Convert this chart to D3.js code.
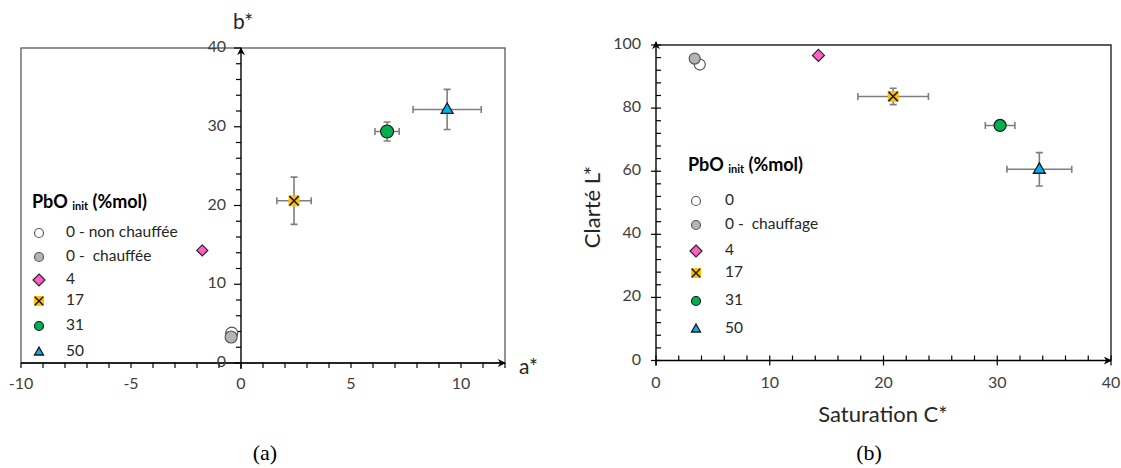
<!DOCTYPE html>
<html><head><meta charset="utf-8">
<script src="https://cdn.jsdelivr.net/npm/d3@7"></script>
<style>
html,body{margin:0;padding:0;background:#fff;}
svg{display:block;}
</style></head>
<body>
<svg id="chart" width="1121" height="468"></svg>
<script>
// ---------- DATA ----------
const seriesKeys = ["0","0c","4","17","31","50"];
const legendLabelsA = ["0 - non chauffée","0 -  chauffée","4","17","31","50"];
const legendLabelsB = ["0","0 -  chauffage","4","17","31","50"];
// panel (a): a*, b*
const aStar = [-0.42, -0.45, -1.76, 2.41, 6.64, 9.37];
const bStar = [3.8, 3.3, 14.3, 20.6, 29.4, 32.2];
const aErr  = [0, 0, 0, 0.78, 0.55, 1.55];
const bErr  = [0, 0, 0, 3.0, 1.2, 2.55];
// panel (b): C*, L*
const chroma    = [3.85, 3.4, 14.28, 20.85, 30.25, 33.7];
const lightness = [93.8, 95.7, 96.7, 83.7, 74.5, 60.6];
const cErr = [0, 0, 0, 3.1, 1.3, 2.85];
const lErr = [0, 0, 0, 2.6, 1.5, 5.3];
// ticks
const xTicksA = [-10,-5,0,5,10];
const yTicksA = [0,10,20,30,40];
const xTicksB = [0,10,20,30,40];
const yTicksB = [0,20,40,60,80,100];

// ---------- STYLE ----------
const SANS = "Lato, 'Open Sans', sans-serif";
const SERIF = "'Liberation Serif', 'Times New Roman', serif";
const styles = {
  "0":  {shape:"circle", fill:"#ffffff", stroke:"#595959"},
  "0c": {shape:"circle", fill:"#b4b4b4", stroke:"#595959"},
  "4":  {shape:"diamond", fill:"#ff5fc0", stroke:"#262626"},
  "17": {shape:"xsquare", fill:"#ffc000", stroke:"#1a1a1a"},
  "31": {shape:"circle", fill:"#00b050", stroke:"#1a1a1a"},
  "50": {shape:"triangle", fill:"#00b0f0", stroke:"#1a1a1a"}
};
const tickColor = "#404040";
const errColor = "#7f7f7f";

const svg = d3.select("#chart").style("font-family", SANS);
const defs = svg.append("defs");
defs.append("marker").attr("id","arrow").attr("viewBox","0 0 10 10")
  .attr("refX",9).attr("refY",5).attr("markerWidth",8).attr("markerHeight",8)
  .attr("markerUnits","userSpaceOnUse").attr("orient","auto")
  .append("path").attr("d","M0,0 L10,5 L0,10 L3,5 Z").attr("fill","#000");

function drawMarker(g, key, cx, cy, s) {
  const st = styles[key];
  if (st.shape === "circle") {
    g.append("circle").attr("cx",cx).attr("cy",cy).attr("r",s/2)
      .attr("fill",st.fill).attr("stroke",st.stroke).attr("stroke-width",1.2);
  } else if (st.shape === "diamond") {
    const h = s/2;
    g.append("path").attr("d",`M${cx},${cy-h}L${cx+h},${cy}L${cx},${cy+h}L${cx-h},${cy}Z`)
      .attr("fill",st.fill).attr("stroke",st.stroke).attr("stroke-width",1.2);
  } else if (st.shape === "triangle") {
    const h = s*0.87;
    g.append("path").attr("d",`M${cx},${cy-h*0.62}L${cx+s/2},${cy+h*0.38}L${cx-s/2},${cy+h*0.38}Z`)
      .attr("fill",st.fill).attr("stroke",st.stroke).attr("stroke-width",1.3);
  } else if (st.shape === "xsquare") {
    const h = s/2;
    g.append("rect").attr("x",cx-h).attr("y",cy-h).attr("width",s).attr("height",s)
      .attr("fill",st.fill);
    const k = h*0.85;
    g.append("path").attr("d",`M${cx-k},${cy-k}L${cx+k},${cy+k}M${cx-k},${cy+k}L${cx+k},${cy-k}`)
      .attr("stroke",st.stroke).attr("stroke-width",1.5);
  }
}

function errorBars(g, xs, ys, xe, ye, xScale, yScale) {
  seriesKeys.forEach((k,i)=>{
    const cx = xScale(xs[i]), cy = yScale(ys[i]);
    const cap = 3.5;
    if (xe[i] > 0) {
      const x0 = xScale(xs[i]-xe[i]), x1 = xScale(xs[i]+xe[i]);
      g.append("path").attr("d",`M${x0},${cy}H${x1}M${x0},${cy-cap}V${cy+cap}M${x1},${cy-cap}V${cy+cap}`)
        .attr("stroke",errColor).attr("stroke-width",1.6).attr("fill","none");
    }
    if (ye[i] > 0) {
      const y0 = yScale(ys[i]-ye[i]), y1 = yScale(ys[i]+ye[i]);
      g.append("path").attr("d",`M${cx},${y0}V${y1}M${cx-cap},${y0}H${cx+cap}M${cx-cap},${y1}H${cx+cap}`)
        .attr("stroke",errColor).attr("stroke-width",1.6).attr("fill","none");
    }
  });
}

function legend(g, x, titleY, rowYs, labels, labelX, ms) {
  const t = g.append("text").attr("x",x).attr("y",titleY).attr("font-size",18)
    .attr("font-weight","bold").attr("fill","#000").attr("dominant-baseline","middle");
  t.append("tspan").text("PbO ");
  t.append("tspan").text("init").attr("font-size",11).attr("dy",4);
  t.append("tspan").text(" (%mol)").attr("dy",-4);
  seriesKeys.forEach((k,i)=>{
    drawMarker(g, k, x + (ms.dx), rowYs[i], ms.size[i]);
    g.append("text").attr("x",labelX).attr("y",rowYs[i]).attr("dominant-baseline","middle")
      .attr("font-size",15.5).attr("fill","#262626").style("white-space","pre").text(labels[i]);
  });
}

// ---------- PANEL (a) ----------
{
  const g = svg.append("g");
  const x = d3.scaleLinear().domain([-10,12]).range([21,505]);
  const y = d3.scaleLinear().domain([0,40]).range([363,48]);
  g.append("rect").attr("x",x(-10)).attr("y",y(40)).attr("width",x(12)-x(-10)).attr("height",y(0)-y(40))
    .attr("fill","none").attr("stroke","#595959").attr("stroke-width",1.3);
  d3.range(-10,12.01,1).forEach(v=>{
    g.append("line").attr("x1",x(v)).attr("x2",x(v)).attr("y1",y(0)).attr("y2",y(0)+5)
      .attr("stroke","#000").attr("stroke-width",1.2);
  });
  d3.range(0,40.01,2).forEach(v=>{
    const len = (v%10===0)?7:5;
    g.append("line").attr("x1",x(0)-len).attr("x2",x(0)).attr("y1",y(v)).attr("y2",y(v))
      .attr("stroke","#000").attr("stroke-width",1.2);
  });
  g.append("line").attr("x1",x(-10)).attr("x2",x(12)).attr("y1",y(0)).attr("y2",y(0))
    .attr("stroke","#000").attr("stroke-width",1.4).attr("marker-end","url(#arrow)");
  g.append("line").attr("x1",x(0)).attr("x2",x(0)).attr("y1",y(0)+6).attr("y2",y(40))
    .attr("stroke","#000").attr("stroke-width",1.4).attr("marker-end","url(#arrow)");
  xTicksA.forEach(v=>{
    g.append("text").attr("x",x(v)).attr("y",y(0)+22).attr("text-anchor","middle")
      .attr("dominant-baseline","middle").attr("font-size",16).attr("fill",tickColor)
      .text(v<0?"-"+Math.abs(v):v);
  });
  yTicksA.forEach(v=>{
    g.append("text").attr("x",x(0)-15).attr("y",y(v)).attr("text-anchor","end")
      .attr("dominant-baseline","middle").attr("font-size",16).attr("fill",tickColor).text(v);
  });
  g.append("text").attr("x",x(0)-8).attr("y",24).attr("font-size",21).attr("fill","#262626")
    .attr("dominant-baseline","middle").text("b*");
  g.append("text").attr("x",519).attr("y",369).attr("font-size",21).attr("fill","#262626")
    .attr("dominant-baseline","middle").text("a*");
  errorBars(g, aStar, bStar, aErr, bErr, x, y);
  const sizesA = [12,12,11,11,13,12];
  seriesKeys.forEach((k,i)=> drawMarker(g, k, x(aStar[i]), y(bStar[i]), sizesA[i]));
  legend(g, 32, 203, [233,257,280,301,326,352], legendLabelsA, 66,
    {dx:7, size:[9,9,12,10,9,9]});
  g.append("text").attr("x",265).attr("y",455).attr("text-anchor","middle")
    .attr("dominant-baseline","middle").attr("font-size",22)
    .style("font-family",SERIF).attr("fill","#000").text("(a)");
}

// ---------- PANEL (b) ----------
{
  const g = svg.append("g");
  const x = d3.scaleLinear().domain([0,40]).range([656,1111]);
  const y = d3.scaleLinear().domain([0,100]).range([360.5,45]);
  g.append("path").attr("d",`M${x(0)},${y(100)}H${x(40)}V${y(0)}`)
    .attr("fill","none").attr("stroke","#262626").attr("stroke-width",1.4);
  d3.range(0,40.01,2).forEach(v=>{
    const major = v%10===0;
    g.append("line").attr("x1",x(v)).attr("x2",x(v)).attr("y1",y(0)-5).attr("y2",y(0)+(major?5:0))
      .attr("stroke","#000").attr("stroke-width",1.2);
  });
  d3.range(0,100.01,4).forEach(v=>{
    const major = v%20===0;
    g.append("line").attr("x1",x(0)-(major?5:0)).attr("x2",x(0)+5).attr("y1",y(v)).attr("y2",y(v))
      .attr("stroke","#000").attr("stroke-width",1.2);
  });
  g.append("line").attr("x1",x(0)).attr("x2",x(40)).attr("y1",y(0)).attr("y2",y(0))
    .attr("stroke","#000").attr("stroke-width",1.4).attr("marker-end","url(#arrow)");
  g.append("line").attr("x1",x(0)).attr("x2",x(0)).attr("y1",y(0)+5).attr("y2",y(100)-3)
    .attr("stroke","#000").attr("stroke-width",1.4).attr("marker-end","url(#arrow)");
  xTicksB.forEach(v=>{
    g.append("text").attr("x",x(v)).attr("y",y(0)+23).attr("text-anchor","middle")
      .attr("dominant-baseline","middle").attr("font-size",16).attr("fill",tickColor).text(v);
  });
  yTicksB.forEach(v=>{
    g.append("text").attr("x",x(0)-15).attr("y",y(v)).attr("text-anchor","end")
      .attr("dominant-baseline","middle").attr("font-size",16).attr("fill",tickColor).text(v);
  });
  g.append("text").attr("transform",`translate(594,207) rotate(-90)`).attr("text-anchor","middle")
    .attr("dominant-baseline","middle").attr("font-size",22).attr("fill","#262626").text("Clarté L*");
  g.append("text").attr("x",883).attr("y",416).attr("text-anchor","middle")
    .attr("dominant-baseline","middle").attr("font-size",22).attr("fill","#262626").text("Saturation C*");
  errorBars(g, chroma, lightness, cErr, lErr, x, y);
  const sizesB = [11,11,12,11,12,12];
  seriesKeys.forEach((k,i)=> drawMarker(g, k, x(chroma[i]), y(lightness[i]), sizesB[i]));
  legend(g, 688, 166, [201,225,251,273,301,329], legendLabelsB, 725,
    {dx:8, size:[9,9,12,10,9,9]});
  g.append("text").attr("x",869).attr("y",455).attr("text-anchor","middle")
    .attr("dominant-baseline","middle").attr("font-size",22)
    .style("font-family",SERIF).attr("fill","#000").text("(b)");
}
</script>
</body></html>
